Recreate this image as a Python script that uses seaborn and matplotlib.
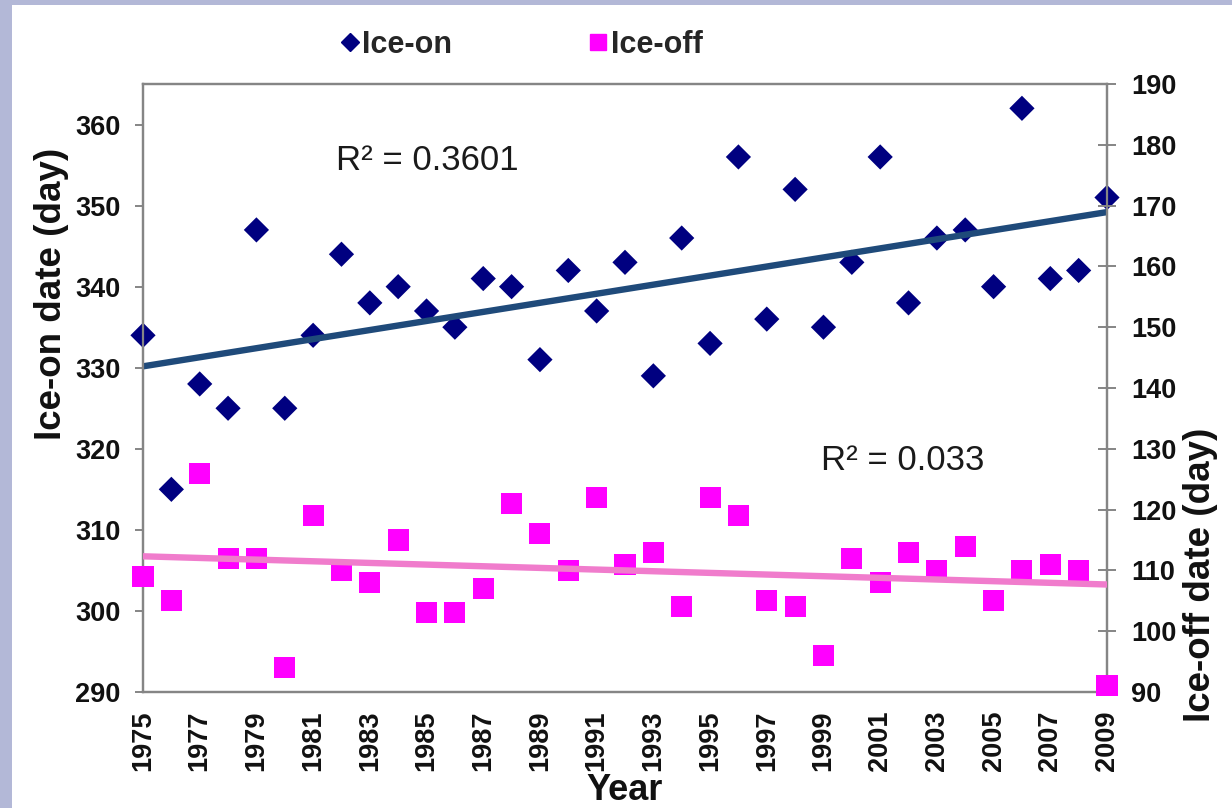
import matplotlib
matplotlib.use("Agg")
import matplotlib.pyplot as plt
from matplotlib.lines import Line2D
from matplotlib.patches import Rectangle
import numpy as np
import pandas as pd
import seaborn as sns

# Lake ice records
years = list(range(1975, 2010))
ice_on = [334, 315, 328, 325, 347, 325, 334, 344, 338, 340, 337, 335, 341, 340,
          331, 342, 337, 343, 329, 346, 333, 356, 336, 352, 335, 343, 356, 338,
          346, 347, 340, 362, 341, 342, 351]
ice_off = [109, 105, 126, 112, 112, 94, 119, 110, 108, 115, 103, 103, 107, 121,
           116, 110, 122, 111, 113, 104, 122, 119, 105, 104, 96, 112, 108, 113,
           110, 114, 105, 110, 111, 110, 91]
x_ticks = list(range(1975, 2010, 2))
left_ticks = list(range(290, 361, 10))
right_ticks = list(range(90, 191, 10))
r2_on_label = "R² = 0.3601"
r2_off_label = "R² = 0.033"

df = pd.DataFrame({"Year": years, "Ice-on": ice_on, "Ice-off": ice_off})

sns.set_theme(style="white")
plt.rcParams["font.family"] = ["Liberation Sans", "DejaVu Sans"]

ON_MARK = "#000080"
OFF_MARK = "#ff00ff"
ON_LINE = "#1f4a7a"
OFF_LINE = "#f07ccc"
SPINE = "#858585"
TEXT = "#111111"

fig = plt.figure(figsize=(12.32, 8.08), dpi=100, facecolor="white")
# frame strips along the left and top edges
fig.patches.append(Rectangle((0, 0), 12 / 1232, 1, transform=fig.transFigure,
                             facecolor="#b3b8d7", edgecolor="none", zorder=0))
fig.patches.append(Rectangle((0, 1 - 5 / 808), 1, 5 / 808, transform=fig.transFigure,
                             facecolor="#b3b8d7", edgecolor="none", zorder=0))

ax = fig.add_axes([143 / 1232, 1 - 692 / 808, (1107 - 143) / 1232, (692 - 84) / 808])
ax2 = ax.twinx()

# Ice-on (left axis)
sns.scatterplot(data=df, x="Year", y="Ice-on", ax=ax, marker="D", s=165,
                color=ON_MARK, edgecolor="none", clip_on=False, zorder=3)
sns.regplot(data=df, x="Year", y="Ice-on", ax=ax, scatter=False, ci=None,
            truncate=True, line_kws=dict(color=ON_LINE, lw=4.6, zorder=4))

# Ice-off (right axis)
sns.scatterplot(data=df, x="Year", y="Ice-off", ax=ax2, marker="s", s=230,
                color=OFF_MARK, edgecolor="none", clip_on=False, zorder=3)
sns.regplot(data=df, x="Year", y="Ice-off", ax=ax2, scatter=False, ci=None,
            truncate=True, line_kws=dict(color=OFF_LINE, lw=4.6, zorder=4))

ax.set_xlim(1975, 2009)
ax.set_ylim(290, 365)
ax2.set_ylim(90, 190)
ax.set_xticks(x_ticks)
ax.set_xticklabels([str(y) for y in x_ticks], rotation=90)
ax.set_yticks(left_ticks)
ax2.set_yticks(right_ticks)

for a in (ax, ax2):
    for sp in a.spines.values():
        sp.set_color(SPINE)
        sp.set_linewidth(1.6)
        sp.set_visible(True)
    a.grid(False)

ax.tick_params(axis="x", direction="out", length=6, width=1.4, color=SPINE,
               pad=7, labelsize=19.5, labelcolor=TEXT)
ax.tick_params(axis="y", direction="out", length=6, width=1.4, color=SPINE,
               pad=10, labelsize=19.5, labelcolor=TEXT, left=True)
ax2.tick_params(axis="y", direction="inout", length=13, width=1.4, color=SPINE,
                pad=11, labelsize=19.5, labelcolor=TEXT, right=True)
for lab in ax.get_xticklabels() + ax.get_yticklabels() + ax2.get_yticklabels():
    lab.set_fontweight("bold")

ax.set_xlabel("Year", fontsize=26, fontweight="bold", color=TEXT)
ax.xaxis.set_label_coords(0.5, -(790 - 692) / 608)
ax.xaxis.label.set_va("center")
ax.set_ylabel("Ice-on date (day)", fontsize=26.5, fontweight="bold", color=TEXT)
ax.yaxis.set_label_coords((52 - 143) / 964, (692 - 294) / 608)
ax.yaxis.label.set_va("center")
ax2.set_ylabel("Ice-off date (day)", fontsize=26.5, fontweight="bold", color=TEXT,
               rotation=90)
ax2.yaxis.set_label_coords((1200 - 143) / 964, (692 - 575) / 608)
ax2.yaxis.label.set_va("center")

ax.text(1981.8, 355.6, r2_on_label, fontsize=25, va="center", ha="left",
        color="#1a1a1a", zorder=6)
ax.text(1998.9, 318.6, r2_off_label, fontsize=25, va="center", ha="left",
        color="#1a1a1a", zorder=6)

handles = [
    Line2D([], [], marker="D", linestyle="none", color=ON_MARK, markersize=9),
    Line2D([], [], marker="s", linestyle="none", color=OFF_MARK, markersize=12),
]
fig.legend(handles, ["Ice-on", "Ice-off"], loc="center", bbox_to_anchor=(0.422, 1 - 45 / 808),
           ncol=2, frameon=False, handletextpad=0.0, columnspacing=4.4,
           handlelength=0.8, prop=dict(size=22, weight="bold"))

fig.savefig("out.png", dpi=100, facecolor="white")
